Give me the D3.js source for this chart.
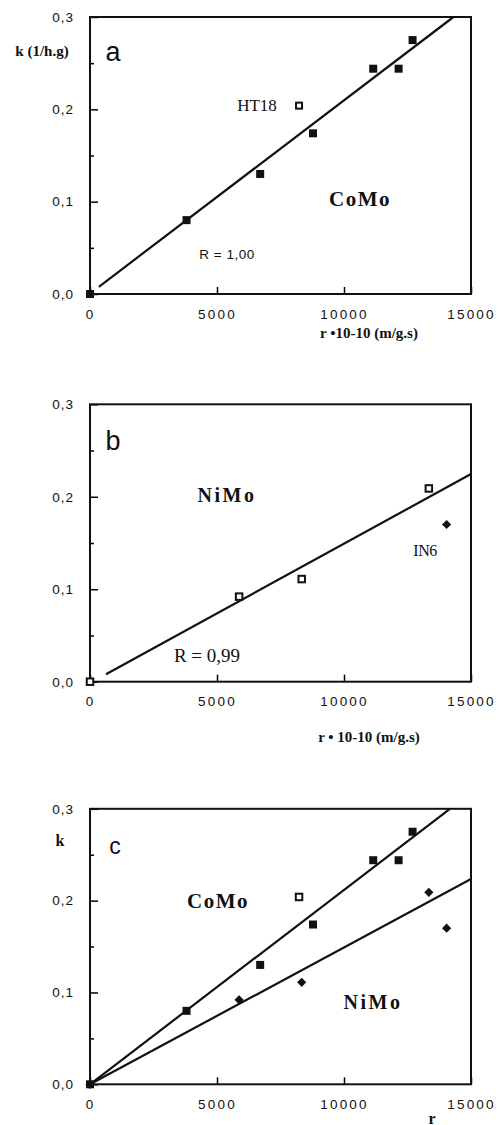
<!DOCTYPE html>
<html>
<head>
<meta charset="utf-8">
<script src="https://cdn.jsdelivr.net/npm/d3@7.9.0/dist/d3.min.js"></script>
<style>
  body { margin: 0; background: #fff; }
  svg { display: block; }
</style>
</head>
<body>
<div id="chart"></div>
<script>
// CoMo catalysts (filled squares), HT18 is the open square off the line
const comoR = [0, 3800, 6700, 8780, 11150, 12150, 12700];
const comoK = [0, 0.080, 0.130, 0.174, 0.244, 0.244, 0.275];
const ht18R = [8230];
const ht18K = [0.204];

// NiMo catalysts, IN6 is the outlier
const nimoR = [0, 5870, 8335, 13340];
const nimoK = [0, 0.092, 0.111, 0.209];
const in6R = [14040];
const in6K = [0.170];

const fitA = [[350, 0.0078], [14310, 0.3]];
const fitB = [[630, 0.008], [15000, 0.2246]];
const fitCoMo = [[0, 0], [14170, 0.3]];
const fitNiMo = [[0, 0], [15000, 0.2236]];

const xTicks = [0, 5000, 10000, 15000];
const yTicks = [0, 0.1, 0.2, 0.3];
const yMinor = [0.05, 0.15, 0.25];

const W = 499, H = 1125;
const left = 90, right = 471;

const svg = d3.select("#chart").append("svg")
  .attr("width", W).attr("height", H);

const serif = "'Liberation Serif', 'Times New Roman', serif";
const sans = "'Liberation Sans', Arial, sans-serif";
const fmtK = d => d3.format(".1f")(d).replace(".", ",");

const zip = (rs, ks) => rs.map((r, i) => ({ r, k: ks[i] }));

function panel(top, bottom) {
  const x = d3.scaleLinear().domain([0, 15000]).range([left, right]);
  const y = d3.scaleLinear().domain([0, 0.3]).range([bottom, top]);
  const g = svg.append("g");

  // minor ticks on the left axis
  g.append("g")
    .attr("transform", `translate(${left},0)`)
    .call(d3.axisLeft(y).tickValues(yMinor).tickSize(-4).tickFormat(""))
    .call(a => a.select(".domain").remove())
    .selectAll("line").attr("stroke-width", 1.5);

  g.append("g")
    .attr("transform", `translate(${left},0)`)
    .call(d3.axisLeft(y).tickValues(yTicks).tickSize(-8).tickPadding(16).tickFormat(fmtK))
    .call(a => a.select(".domain").remove())
    .call(a => a.selectAll("line").attr("stroke-width", 1.5))
    .selectAll("text")
      .attr("font-family", sans).attr("font-size", 13.5)
      .attr("letter-spacing", 1).attr("fill", "#111");

  g.append("g")
    .attr("transform", `translate(0,${bottom})`)
    .call(d3.axisBottom(x).tickValues(xTicks).tickSize(-7).tickPadding(15).tickFormat(d3.format("d")))
    .call(a => a.select(".domain").remove())
    .call(a => a.selectAll("line").attr("stroke-width", 1.5))
    .selectAll("text")
      .attr("font-family", sans).attr("font-size", 13.5)
      .attr("letter-spacing", 2.2).attr("fill", "#111");

  g.append("rect")
    .attr("x", left).attr("y", top)
    .attr("width", right - left).attr("height", bottom - top)
    .attr("fill", "none").attr("stroke", "#111").attr("stroke-width", 2);

  return { g, x, y };
}

function fitLine(p, pts) {
  p.g.append("path")
    .datum(pts)
    .attr("d", d3.line().x(d => p.x(d[0])).y(d => p.y(d[1])))
    .attr("fill", "none").attr("stroke", "#111").attr("stroke-width", 2.2);
}

function squares(p, data, size, open) {
  p.g.selectAll(null).data(data).join("rect")
    .attr("x", d => p.x(d.r) - size / 2)
    .attr("y", d => p.y(d.k) - size / 2)
    .attr("width", size).attr("height", size)
    .attr("fill", open ? "#fff" : "#111")
    .attr("stroke", "#111").attr("stroke-width", open ? 2 : 0);
}

function diamonds(p, data, size) {
  p.g.selectAll(null).data(data).join("rect")
    .attr("x", -size / 2).attr("y", -size / 2)
    .attr("width", size).attr("height", size)
    .attr("transform", d => `translate(${p.x(d.r)},${p.y(d.k)}) rotate(45)`)
    .attr("fill", "#111");
}

function label(p, txt, cx, cy, font, size, weight, spacing) {
  p.g.append("text")
    .attr("x", cx).attr("y", cy)
    .attr("text-anchor", "middle").attr("dominant-baseline", "central")
    .attr("font-family", font).attr("font-size", size)
    .attr("font-weight", weight || "normal")
    .attr("letter-spacing", spacing || 0)
    .attr("fill", "#111")
    .text(txt);
}

// ---- panel a : CoMo ----
const pa = panel(17, 294);
fitLine(pa, fitA);
squares(pa, zip(comoR, comoK), 8, false);
squares(pa, zip(ht18R, ht18K), 6, true);
label(pa, "k (1/h.g)", 42, 51, serif, 15, "bold", 0);
label(pa, "a", 113, 52, sans, 27, "normal", 0);
label(pa, "HT18", 257, 105, serif, 17, "normal", 0);
label(pa, "CoMo", 360, 199, serif, 21, "bold", 1.5);
label(pa, "R = 1,00", 227, 254, sans, 13.5, "normal", 0.5);
label(pa, "r \u202210-10 (m/g.s)", 369, 333, serif, 15, "bold", 0);

// ---- panel b : NiMo ----
const pb = panel(404.3, 681.7);
fitLine(pb, fitB);
squares(pb, zip(nimoR, nimoK), 6.5, true);
diamonds(pb, zip(in6R, in6K), 6.5);
label(pb, "b", 113, 441, sans, 27, "normal", 0);
label(pb, "NiMo", 227, 495, serif, 20, "bold", 2.5);
label(pb, "IN6", 425, 550, serif, 16, "normal", -0.5);
label(pb, "R = 0,99", 207, 655, serif, 19, "normal", 0);
label(pb, "r \u2022 10-10 (m/g.s)", 369, 737, serif, 15, "bold", 0);

// ---- panel c : both ----
const pc = panel(808.8, 1084.3);
fitLine(pc, fitCoMo);
fitLine(pc, fitNiMo);
diamonds(pc, zip(nimoR, nimoK).concat(zip(in6R, in6K)), 6.5);
squares(pc, zip(comoR, comoK), 8, false);
squares(pc, zip(ht18R, ht18K), 6.5, true);
label(pc, "k", 60, 840, serif, 16, "bold", 0);
label(pc, "c", 115, 846, sans, 23, "normal", 0);
label(pc, "CoMo", 218, 901, serif, 21, "bold", 1.5);
label(pc, "NiMo", 373, 1002, serif, 20, "bold", 2.5);
label(pc, "r", 432, 1118, serif, 16, "bold", 0);
</script>
</body>
</html>
